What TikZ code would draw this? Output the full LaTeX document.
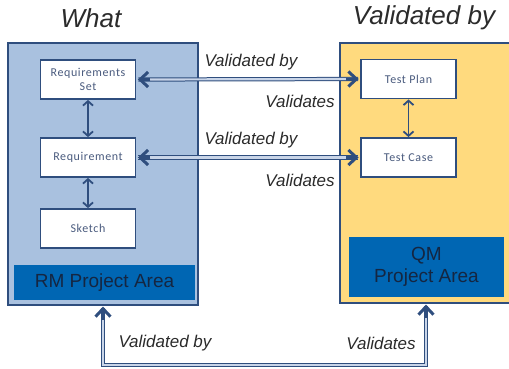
\documentclass[tikz,border=0pt]{standalone}
\usepackage{fontspec}
\setmainfont{Liberation Sans}
\newfontfamily\boxfont[LetterSpace=5]{Carlito}
\usetikzlibrary{arrows.meta,calc}
\definecolor{rmfill}{HTML}{A9C1DF}
\definecolor{qmfill}{HTML}{FFDA7E}
\definecolor{areabar}{HTML}{0066B3}
\definecolor{edge}{HTML}{2F4E7E}
\definecolor{linkin}{HTML}{C9D5E8}
\definecolor{boxtext}{HTML}{4A5B7E}
\definecolor{labeltext}{HTML}{2B2B2B}
\definecolor{areaink}{HTML}{152641}
\begin{document}
\begin{tikzpicture}[x=1pt,y=-1pt,
  artifact/.style={draw=edge,line width=1.8pt,fill=white,minimum width=95pt,
    minimum height=39pt,inner sep=0pt,align=center,text=boxtext,
    font=\boxfont\fontsize{12}{14}\selectfont},
  areatext/.style={text=areaink,align=center,font=\fontsize{19}{22}\selectfont},
  heading/.style={font=\itshape\fontsize{26}{30}\selectfont,text=labeltext},
  linklabel/.style={font=\itshape\fontsize{17}{19}\selectfont,text=labeltext,inner sep=0pt},
  link/.style={draw=edge,line width=1pt,double=linkin,double distance=2.2pt},
  bigtip/.style={draw=edge,line width=3pt,
    -{Straight Barb[length=8pt,width=15pt,line width=3pt]}},
  near/.style={draw=edge,line width=1.8pt,
    {Straight Barb[length=4.5pt,width=10pt]}-{Straight Barb[length=4.5pt,width=10pt]}}
]
\useasboundingbox (0,0) rectangle (509,368);

% headings
\node[heading] (what) at (91,18) {What};
\node[heading] (valby) at (424,18) {Validated by};

% requirements management area
\filldraw[fill=rmfill,draw=edge,line width=1.4pt] (8,43) rectangle (198,305);
\fill[areabar] (14,265) rectangle (195,300);
\node[areatext] (rm) at (104.5,283) {RM Project Area};
\coordinate (rmbottom) at (103,306);

% quality management area (runs past the right edge)
\fill[qmfill] (340,43) rectangle (512,303);
\draw[edge,line width=1.4pt] (512,43) -- (340,43) -- (340,303) -- (512,303);
\fill[areabar] (349,237) rectangle (504,297);
\node[areatext] (qm) at (426.5,267) {QM\\Project Area};
\coordinate (qmbottom) at (426,304);

% artifacts
\node[artifact] (rset) at (88,79.5) {Requirements\\Set};
\node[artifact] (req) at (88,157.5) {Requirement};
\node[artifact] (sketch) at (88,228.5) {Sketch};
\node[artifact] (tplan) at (408.5,79) {Test Plan};
\node[artifact] (tcase) at (408.5,157.5) {Test Case};

% containment links
\draw[near] (rset) -- (req);
\draw[near] (req) -- (sketch);
\draw[near] (tplan) -- (tcase);

% validation links: double lines with separate heavy heads
\draw[link] ([xshift=2pt]rset.east) -- ([xshift=-2pt]tplan.west);
\draw[link] ([xshift=2pt]req.east) -- ([xshift=-2pt]tcase.west);
\draw[link] ($(rmbottom)+(0,2)$) -- ++(0,57) -| ($(qmbottom)+(0,2)$);
\draw[bigtip] ($(rset.east)+(14,0)$) -- ([xshift=1.5pt]rset.east);
\draw[bigtip] ($(tplan.west)+(-14,0)$) -- ([xshift=-1.5pt]tplan.west);
\draw[bigtip] ($(req.east)+(14,0)$) -- ([xshift=1.5pt]req.east);
\draw[bigtip] ($(tcase.west)+(-14,0)$) -- ([xshift=-1.5pt]tcase.west);
\draw[bigtip] ($(rmbottom)+(0,14)$) -- ($(rmbottom)+(0,0.5)$);
\draw[bigtip] ($(qmbottom)+(0,14)$) -- ($(qmbottom)+(0,0.5)$);

% link labels
\node[linklabel] (l1) at (251,62) {Validated by};
\node[linklabel] (l2) at (300,101) {Validates};
\node[linklabel] (l3) at (251,140) {Validated by};
\node[linklabel] (l4) at (300,180) {Validates};
\node[linklabel] (l5) at (165,343) {Validated by};
\node[linklabel] (l6) at (381,343) {Validates};
\end{tikzpicture}
\end{document}
